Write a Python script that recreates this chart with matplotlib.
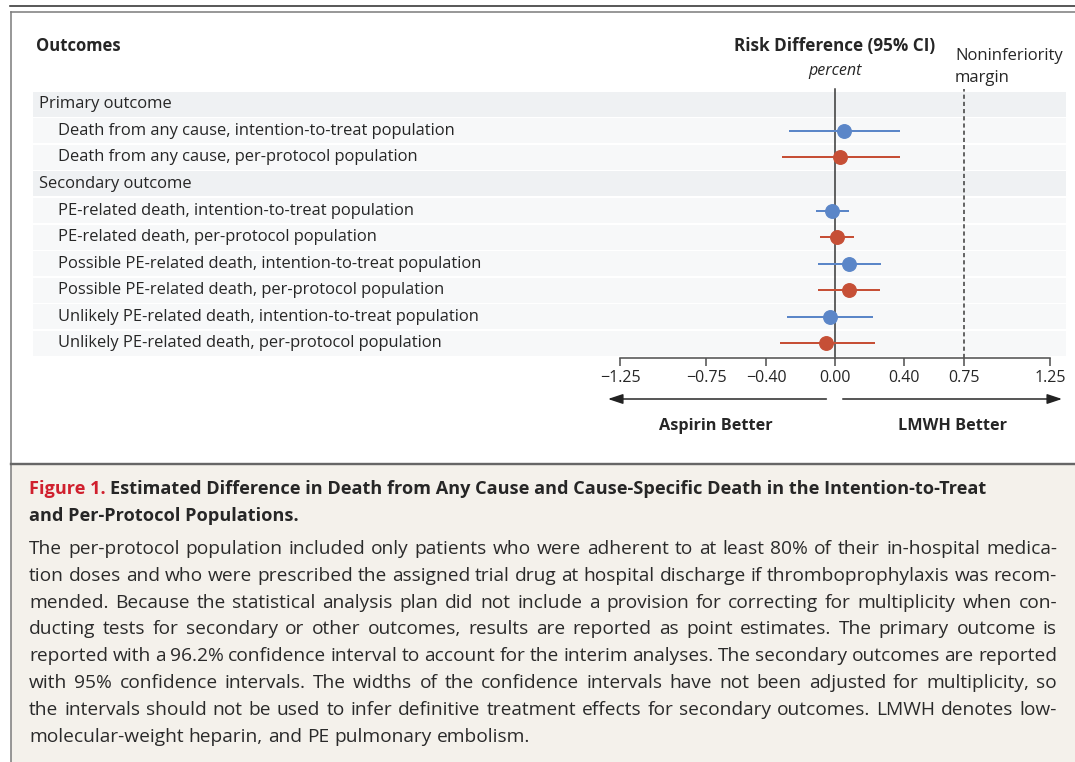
import matplotlib
matplotlib.use('Agg')
import numpy as np
import matplotlib.pyplot as plt
from matplotlib.patches import Rectangle, FancyArrowPatch
from matplotlib.lines import Line2D
import matplotlib.transforms as mtransforms

plt.rcParams['font.family'] = ['Open Sans', 'DejaVu Sans']

# ---------------- data ----------------
row_labels = [
    'Primary outcome',
    'Death from any cause, intention-to-treat population',
    'Death from any cause, per-protocol population',
    'Secondary outcome',
    'PE-related death, intention-to-treat population',
    'PE-related death, per-protocol population',
    'Possible PE-related death, intention-to-treat population',
    'Possible PE-related death, per-protocol population',
    'Unlikely PE-related death, intention-to-treat population',
    'Unlikely PE-related death, per-protocol population',
]
is_section = [True, False, False, True, False, False, False, False, False, False]
population = ['', 'ITT', 'PP', '', 'ITT', 'PP', 'ITT', 'PP', 'ITT', 'PP']
estimate = [np.nan, 0.05, 0.03, np.nan, -0.02, 0.01, 0.08, 0.08, -0.03, -0.05]
ci_low = [np.nan, -0.27, -0.31, np.nan, -0.11, -0.085, -0.10, -0.10, -0.28, -0.32]
ci_high = [np.nan, 0.38, 0.38, np.nan, 0.08, 0.11, 0.27, 0.26, 0.22, 0.23]

tick_values = [-1.25, -0.75, -0.40, 0.00, 0.40, 0.75, 1.25]
tick_labels = ['\u22121.25', '\u22120.75', '\u22120.40', '0.00', '0.40', '0.75', '1.25']
noninferiority_margin = 0.75

caption_title_red = 'Figure 1.'
caption_title_lines = [
    'Estimated Difference in Death from Any Cause and Cause-Specific Death in the Intention-to-Treat',
    'and Per-Protocol Populations.',
]
caption_body_lines = [
    'The per-protocol population included only patients who were adherent to at least 80% of their in-hospital medica-',
    'tion doses and who were prescribed the assigned trial drug at hospital discharge if thromboprophylaxis was recom-',
    'mended. Because the statistical analysis plan did not include a provision for correcting for multiplicity when con-',
    'ducting tests for secondary or other outcomes, results are reported as point estimates. The primary outcome is',
    'reported with a 96.2% confidence interval to account for the interim analyses. The secondary outcomes are reported',
    'with 95% confidence intervals. The widths of the confidence intervals have not been adjusted for multiplicity, so',
    'the intervals should not be used to infer definitive treatment effects for secondary outcomes. LMWH denotes low-',
    'molecular-weight heparin, and PE pulmonary embolism.',
]

# ---------------- styling ----------------
W, H = 1075, 762
PT = 72.0 / 100.0  # points per pixel at dpi 100
BLUE = '#5b86c8'
RED = '#c64f36'
TXT = '#262626'
colors = {'ITT': BLUE, 'PP': RED}

fig = plt.figure(figsize=(W / 100, H / 100), dpi=100)
fig.patch.set_facecolor('white')

bg = fig.add_axes([0, 0, 1, 1], zorder=0)
bg.set_xlim(0, W)
bg.set_ylim(H, 0)
bg.axis('off')

# frame decorations
bg.add_patch(Rectangle((11, 463), W - 11, H - 463, facecolor='#f4f1eb', edgecolor='none', zorder=0))
bg.add_line(Line2D([10, W], [5.5, 5.5], color='#333333', lw=1.6 * PT))
bg.add_line(Line2D([11, W], [11.5, 11.5], color='#808080', lw=1.6 * PT))
bg.add_line(Line2D([11, 11], [11.5, H], color='#808080', lw=1.6 * PT))
bg.add_line(Line2D([11, W], [463.5, 463.5], color='#666666', lw=2.4 * PT))

# data axes
top_px, bot_px = 91.7, 357.5
left_px, right_px = 620, 1050
ax = fig.add_axes([left_px / W, 1 - bot_px / H, (right_px - left_px) / W, (bot_px - top_px) / H], zorder=2)
ax.patch.set_alpha(0)
n = len(row_labels)
ax.set_xlim(tick_values[0], tick_values[-1])
ax.set_ylim(n - 0.5, -0.5)
for s in ['top', 'left', 'right']:
    ax.spines[s].set_visible(False)
ax.spines['bottom'].set_color('#555555')
ax.spines['bottom'].set_linewidth(1.6 * PT)
ax.set_yticks([])
ax.set_xticks(tick_values)
ax.set_xticklabels(tick_labels)
ax.tick_params(axis='x', direction='out', length=8 * PT, width=1.6 * PT, color='#555555',
               pad=3, labelsize=11.5, labelcolor=TXT)

pitch = (bot_px - top_px) / n
band_h = 25.0 / pitch

# row bands and labels (x in pixels, y in row units)
trans_row = mtransforms.blended_transform_factory(bg.transData, ax.transData)
for i, (lab, sec) in enumerate(zip(row_labels, is_section)):
    bg.add_patch(Rectangle((33, i - 0.5), 1066 - 33, band_h, transform=trans_row,
                           facecolor='#eff1f3' if sec else '#f7f8f9', edgecolor='none', zorder=1))
    bg.text(39 if sec else 58, i - 0.5 + band_h / 2, lab, transform=trans_row,
            va='center', ha='left', fontsize=11.9, color=TXT, zorder=3)

# reference lines
ax.axvline(0, ymin=0, ymax=1.01, color='#333333', lw=1.5 * PT, clip_on=False, zorder=2)
ax.axvline(noninferiority_margin, ymin=0, ymax=1.01, color='#444444', lw=1.6 * PT,
           linestyle=(0, (2.6, 1.9)), clip_on=False, zorder=2)

# estimates with CIs
for i in range(n):
    if is_section[i]:
        continue
    c = colors[population[i]]
    yc = i - 0.5 + band_h / 2
    ax.plot([ci_low[i], ci_high[i]], [yc, yc], color=c, lw=2.0 * PT, solid_capstyle='butt', zorder=4)
    ax.plot([estimate[i]], [yc], marker='o', ms=13.5 * PT, color=c, mec=c, zorder=5)

# arrows below axis
trans_arr = mtransforms.blended_transform_factory(ax.transData, bg.transData)
arrow_style = '-|>,head_length=0.9,head_width=0.3'
for x0, x1 in [(-0.05, -1.32), (0.045, 1.32)]:
    fig.add_artist(FancyArrowPatch((x0, 399), (x1, 399), transform=trans_arr,
                                   arrowstyle=arrow_style, mutation_scale=10,
                                   color='#222222', lw=1.5 * PT, shrinkA=0, shrinkB=0))
bg.text(716, 426, 'Aspirin Better', ha='center', va='center', fontsize=11.7, fontweight='bold', color=TXT)
bg.text(952, 426, 'LMWH Better', ha='center', va='center', fontsize=11.7, fontweight='bold', color=TXT)

# headers
bg.text(36, 46, 'Outcomes', ha='left', va='center', fontsize=12, fontweight='bold', color=TXT)
bg.text(835, 46, 'Risk Difference (95% CI)', ha='center', va='center', fontsize=12.3, fontweight='bold', color=TXT)
bg.text(835, 71, 'percent', ha='center', va='center', fontsize=11.5, style='italic', color=TXT)
bg.text(955, 56, 'Noninferiority', ha='left', va='center', fontsize=12, color=TXT)
bg.text(955, 78, 'margin', ha='left', va='center', fontsize=12, color=TXT)

# caption
renderer = fig.canvas.get_renderer()


def text_width(s, **kw):
    t = bg.text(0, 0, s, **kw)
    w = t.get_window_extent(renderer).width
    t.remove()
    return w


cap_kw = dict(fontsize=13.8, color='#2a2a2a', va='center', ha='left')
title_kw = dict(fontsize=13.1, fontweight='bold', va='center', ha='left')

x_left, x_right = 29, 1057
t_red = bg.text(x_left, 489, caption_title_red, color='#d0202e', **title_kw)
w_red = t_red.get_window_extent(renderer).width
sp_b = text_width('x x', **title_kw) - text_width('xx', **title_kw)
bg.text(x_left + w_red + sp_b, 489, caption_title_lines[0], color='#262626', **title_kw)
bg.text(x_left, 516, caption_title_lines[1], color='#262626', **title_kw)

sp = text_width('x x', **cap_kw) - text_width('xx', **cap_kw)
y0, dy = 549, 26.8
for k, line in enumerate(caption_body_lines):
    y = y0 + k * dy
    words = line.split(' ')
    widths = [text_width(w, **cap_kw) for w in words]
    last = (k == len(caption_body_lines) - 1)
    gap = sp if last else (x_right - x_left - sum(widths)) / (len(words) - 1)
    x = x_left
    for w, wd in zip(words, widths):
        bg.text(x, y, w, **cap_kw)
        x += wd + gap

fig.savefig('out.png', dpi=100, facecolor='white')
